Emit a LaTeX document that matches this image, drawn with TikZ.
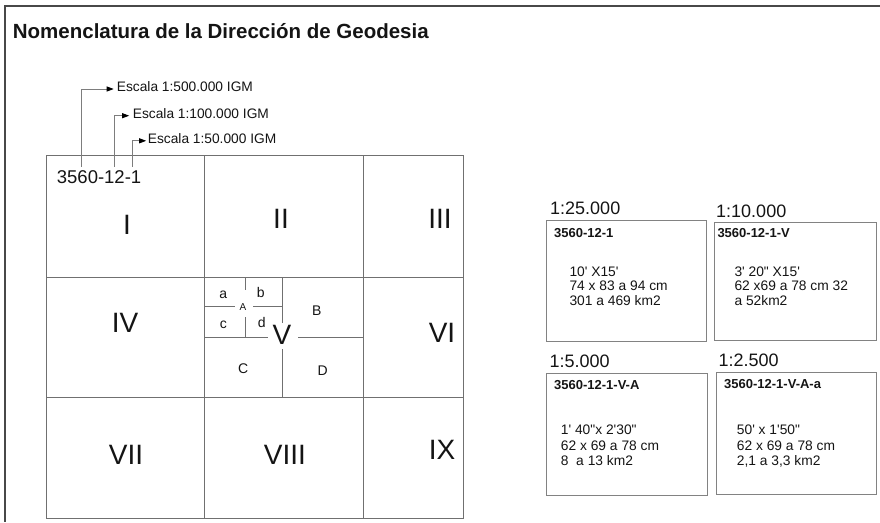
\documentclass[tikz,border=0pt]{standalone}
\usepackage{fontspec}
\setmainfont{Liberation Sans}
\usetikzlibrary{arrows.meta}
\definecolor{gridcol}{RGB}{112,112,112}
\definecolor{framecol}{RGB}{72,72,72}
\definecolor{leadcol}{RGB}{125,125,125}
\definecolor{boxcol}{RGB}{130,130,130}
\definecolor{inkcol}{RGB}{20,20,20}
\newcommand{\myq}{\textquotesingle}
\newcommand{\myqq}{\textquotedbl}
\begin{document}
\begin{tikzpicture}[x=1pt,y=-1pt,
  gridline/.style={draw=gridcol,line width=1pt},
  frameline/.style={draw=framecol,line width=1.5pt},
  boxline/.style={draw=boxcol,line width=1pt},
  lead/.style={draw=leadcol,line width=0.9pt,-{Triangle[length=7pt,width=5pt,color=black]}},
  txt/.style={inner sep=0pt,anchor=base west,text=inkcol},
  roman/.style={inner sep=0pt,text=inkcol,font=\fontsize{28}{30}\selectfont},
  small/.style={inner sep=0pt,text=inkcol,font=\fontsize{14}{16}\selectfont},
  esc/.style={txt,font=\fontsize{13.75}{16}\selectfont},
  scalelbl/.style={txt,font=\fontsize{18}{20}\selectfont},
  head/.style={txt,font=\fontsize{13}{15}\selectfont\bfseries},
  body/.style={txt,font=\fontsize{13.8}{15}\selectfont},
  card/.style={boxline,inner sep=0pt,anchor=north west}
]
\useasboundingbox (0,0) rectangle (880,522);
% frame
\draw[frameline] (880,5.8) -- (5.2,5.8) -- (5.2,522);
% title
\node[txt,font=\fontsize{20.5}{24}\selectfont\bfseries] (title) at (12.7,38.5) {Nomenclatura de la Dirección de Geodesia};

% grid
\draw[gridline] (46,155) rectangle (463,518);
\draw[gridline] (204.3,155) -- (204.3,518);
\draw[gridline] (363.3,155) -- (363.3,518);
\draw[gridline] (46,277.3) -- (463,277.3);
\draw[gridline] (46,397.3) -- (463,397.3);
% subdivision of V
\draw[gridline] (282.5,277.3) -- (282.5,322.7);
\draw[gridline] (282.5,349.3) -- (282.5,397.3);
\draw[gridline] (204.3,337.3) -- (268.3,337.3);
\draw[gridline] (298.3,337.3) -- (363.3,337.3);
% subdivision of A
\draw[gridline] (245,277.3) -- (245,290);
\draw[gridline] (245,317.3) -- (245,337.3);
\draw[gridline] (204.3,306.7) -- (235,306.7);
\draw[gridline] (253.3,306.7) -- (282.5,306.7);

% roman numerals
\node[roman] (r1) at (127,225) {I};
\node[roman] (r2) at (281,219) {II};
\node[roman] (r3) at (440,219) {III};
\node[roman] (r4) at (125,323) {IV};
\node[roman] (r5) at (282,335) {V};
\node[roman] (r6) at (442,333) {VI};
\node[roman] (r7) at (126,455) {VII};
\node[roman] (r8) at (285,455) {VIII};
\node[roman] (r9) at (442,450) {IX};
% small letters
\node[small] (la) at (223.3,294.7) {a};
\node[small] (lb) at (260.7,292) {b};
\node[small] (lc) at (223.3,325) {c};
\node[small] (ld) at (261.7,322.3) {d};
\node[inner sep=0pt,text=inkcol,font=\fontsize{10}{12}\selectfont] (lA) at (243,307.3) {A};
\node[small] (lB) at (316.7,311) {B};
\node[small] (lC) at (243.3,368.7) {C};
\node[small] (lD) at (322.7,370.7) {D};

% code and leaders
\node[txt,font=\fontsize{18.5}{20}\selectfont] (code) at (56.7,183.3) {3560-12-1};
\node[esc] (e1) at (116.7,91.3) {Escala 1:500.000 IGM};
\node[esc] (e2) at (132.7,118) {Escala 1:100.000 IGM};
\node[esc] (e3) at (147.7,143.8) {Escala 1:50.000 IGM};
\coordinate (l1) at (81.7,166.5);
\coordinate (l2) at (114,166.5);
\coordinate (l3) at (132.3,166.5);
\draw[lead] (l1) |- ([xshift=-3pt,yshift=2.3pt]e1.base west);
\draw[lead] (l2) |- ([xshift=-3.5pt,yshift=2.3pt]e2.base west);
\draw[lead] (l3) |- ([xshift=-1.5pt,yshift=3pt]e3.base west);

% cards
\node[card,minimum width=160pt,minimum height=120.7pt] (b1) at (546,220) {};
\node[card,minimum width=161.7pt,minimum height=118.3pt] (b2) at (714,221.7) {};
\node[card,minimum width=160.7pt,minimum height=121.7pt] (b3) at (546,373.3) {};
\node[card,minimum width=160pt,minimum height=121.7pt] (b4) at (715.7,372.3) {};

\node[scalelbl] (s1) at (550,214) {1:25.000};
\node[scalelbl] (s2) at (716,217.3) {1:10.000};
\node[scalelbl] (s3) at (549.3,367.3) {1:5.000};
\node[scalelbl] (s4) at (718.3,366.7) {1:2.500};

\node[head] (h1) at (554,237) {3560-12-1};
\node[head] (h2) at (717.3,237.3) {3560-12-1-V};
\node[head] (h3) at (554,389.3) {3560-12-1-V-A};
\node[head] (h4) at (724,388.3) {3560-12-1-V-A-a};

\node[body] (t11) at (569.3,276.5) {10\myq{} X15\myq};
\node[body] (t12) at (569.3,290.8) {74 x 83 a 94 cm};
\node[body] (t13) at (569.3,305) {301 a 469 km2};

\node[body] (t21) at (734.3,276.5) {3\myq{} 20\myqq{} X15\myq};
\node[body] (t22) at (734.3,290.8) {62 x69 a 78 cm 32};
\node[body] (t23) at (734.3,305) {a 52km2};

\node[body] (t31) at (560.7,434.8) {1\myq{} 40\myqq x 2\myq 30\myqq};
\node[body] (t32) at (560.7,450.8) {62 x 69 a 78 cm};
\node[body] (t33) at (560.7,465.5) {8~ a 13 km2};

\node[body] (t41) at (736.7,434.8) {50\myq{} x 1\myq 50\myqq};
\node[body] (t42) at (736.7,450.8) {62 x 69 a 78 cm};
\node[body] (t43) at (736.7,465.5) {2,1 a 3,3 km2};
\end{tikzpicture}
\end{document}
